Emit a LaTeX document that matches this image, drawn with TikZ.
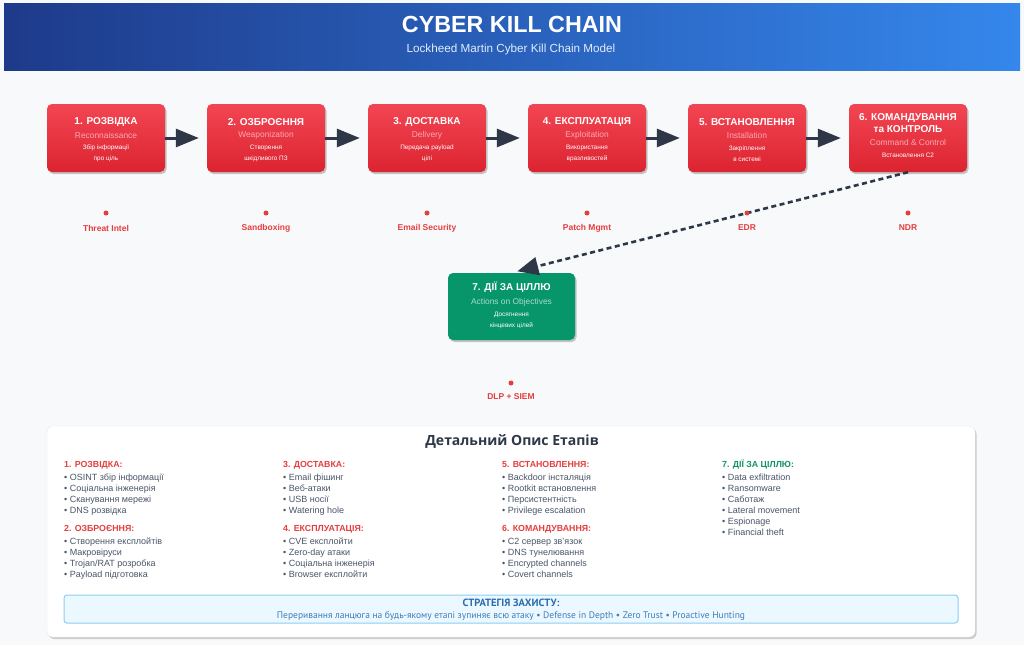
\documentclass[tikz,border=0pt]{standalone}
\usepackage{fontspec}
\setmainfont{Liberation Sans}
\newfontfamily\hum{Open Sans}
\newfontfamily\ptsans{PT Sans}
\usetikzlibrary{shadows,arrows.meta,calc}
\definecolor{bgc}{HTML}{F7F9FB}
\definecolor{hdl}{HTML}{1E3A8A}
\definecolor{hdr}{HTML}{3587EC}
\definecolor{redt}{HTML}{F24553}
\definecolor{redb}{HTML}{DC2430}
\definecolor{pinkt}{HTML}{FAA9B1}
\definecolor{grn}{HTML}{07956A}
\definecolor{grnt}{HTML}{A6DEC6}
\definecolor{dark}{HTML}{2D3748}
\definecolor{redl}{HTML}{E53E3E}
\definecolor{grayt}{HTML}{4A5568}
\definecolor{grnl}{HTML}{109466}
\definecolor{sfill}{HTML}{EBF8FF}
\definecolor{sdraw}{HTML}{8DCDF2}
\definecolor{sblue}{HTML}{2B6CB0}
\tikzset{
  stagebox/.style={rounded corners=5pt, top color=redt, bottom color=redb, draw=none,
    minimum width=118pt, minimum height=68pt, inner sep=0pt,
    drop shadow={shadow xshift=1.5pt, shadow yshift=-2pt, opacity=.22, fill=black}},
  greenbox/.style={rounded corners=5pt, fill=grn, draw=none,
    minimum width=127pt, minimum height=67pt, inner sep=0pt,
    drop shadow={shadow xshift=1.5pt, shadow yshift=-2pt, opacity=.22, fill=black}},
  sttitle/.style={text=white, font=\fontsize{10}{12}\selectfont\bfseries, inner sep=0pt, align=center},
  steng/.style={text=pinkt, font=\fontsize{8.4}{10}\selectfont, inner sep=0pt},
  stdesc/.style={text=white, font=\fontsize{6.4}{11}\selectfont, inner sep=0pt, align=center},
  chainarrow/.style={draw=dark, line width=3pt, -{Triangle[length=23pt,width=18pt]}, shorten >=8pt},
  dasharrow/.style={draw=dark, line width=2.6pt, dash pattern=on 5pt off 3.5pt, -{Triangle[length=21pt,width=18pt]}, shorten >=6pt},
  dot/.style={circle, fill=redl, minimum size=5pt, inner sep=0pt},
  deflabel/.style={text=redl, font=\fontsize{8.5}{10}\selectfont\bfseries, inner sep=0pt},
  colhead/.style={font=\fontsize{8.8}{10}\selectfont\bfseries, inner sep=0pt, anchor=base west},
  item/.style={text=grayt, font=\fontsize{9}{10}\selectfont, inner sep=0pt, anchor=base west},
}
\newcommand\mkstage[5]{%
  \node[stagebox] (#1) at (#2,138) {};
  \node[sttitle] (#1t) at (#2,122) {#3};
  \node[steng] (#1e) at (#2,135) {#4};
  \node[stdesc] (#1d) at (#2,153.5) {#5};
}
\newcommand\mkitems[4]{%
  \foreach \t [count=\i] in {#4} {
    \node[item] (#1\i) at (#2,{#3+(\i-1)*10.9}) {• \t};
  }
}
\begin{document}
\begin{tikzpicture}[x=1pt,y=-1pt]
\useasboundingbox (0,0) rectangle (1024,645);
\fill[bgc] (0,0) rectangle (1024,645);
% header
\shade[left color=hdl, right color=hdr] (4,3) rectangle (1020,70);
\node[text=white, font=\fontsize{23.3}{25}\selectfont\bfseries, inner sep=0pt] (title) at (512,24) {CYBER KILL CHAIN};
\node[text=white!85!hdr, font=\fontsize{11.7}{13}\selectfont, inner sep=0pt] (subtitle) at (511,49) {Lockheed Martin Cyber Kill Chain Model};
% stages
\mkstage{s1}{106}{1. РОЗВІДКА}{Reconnaissance}{Збір інформації\\про ціль}
\mkstage{s2}{266}{2. ОЗБРОЄННЯ}{Weaponization}{Створення\\шкідливого ПЗ}
\mkstage{s3}{427}{3. ДОСТАВКА}{Delivery}{Передача payload\\цілі}
\mkstage{s4}{587}{4. ЕКСПЛУАТАЦІЯ}{Exploitation}{Використання\\вразливостей}
\mkstage{s5}{747}{5. ВСТАНОВЛЕННЯ}{Installation}{Закріплення\\в системі}
\node[stagebox] (s6) at (908,138) {};
\node[sttitle] (s6t) at (908,123) {6. КОМАНДУВАННЯ\\та КОНТРОЛЬ};
\node[steng] (s6e) at (908,142) {Command \& Control};
\node[stdesc] (s6d) at (908,155) {Встановлення C2};
% chain arrows
\draw[chainarrow] (s1.east) -- (s2.west);
\draw[chainarrow] (s2.east) -- (s3.west);
\draw[chainarrow] (s3.east) -- (s4.west);
\draw[chainarrow] (s4.east) -- (s5.west);
\draw[chainarrow] (s5.east) -- (s6.west);
% stage 7
\node[greenbox] (s7) at (511.5,306.5) {};
\node[sttitle] (s7t) at (511.5,287) {7. ДІЇ ЗА ЦІЛЛЮ};
\node[steng, text=grnt] (s7e) at (511.5,302) {Actions on Objectives};
\node[stdesc] (s7d) at (511.5,320.5) {Досягнення\\кінцевих цілей};
\draw[dasharrow] (s6.south) -- (s7.north);
% defenses
\foreach \n/\x/\l in {1/106/Threat Intel,2/266/Sandboxing,3/427/Email Security,4/587/Patch Mgmt,5/747/EDR,6/908/NDR} {
  \node[dot] (d\n) at (\x,213) {};
  \node[deflabel] (l\n) at (\x,228) {\l};
}
\node[dot] (d7) at (511,383) {};
\node[deflabel] (l7) at (511,397) {DLP + SIEM};
% details panel
\node[rounded corners=6pt, fill=white, draw=black!8, minimum width=928pt, minimum height=211pt, inner sep=0pt,
  drop shadow={shadow xshift=1.5pt, shadow yshift=-2pt, opacity=.18, fill=black}] (panel) at (511,531.5) {};
\node[text=dark, font=\hum\fontsize{14}{16}\selectfont\bfseries, inner sep=0pt] (ptitle) at (512,441) {Детальний Опис Етапів};
\node[colhead, text=redl] (h1) at (64,467.2) {1. РОЗВІДКА:};
\mkitems{a}{64}{480.8}{OSINT збір інформації,Соціальна інженерія,Сканування мережі,DNS розвідка}
\node[colhead, text=redl] (h2) at (64,531.2) {2. ОЗБРОЄННЯ:};
\mkitems{b}{64}{544.3}{Створення експлойтів,Макровіруси,Trojan/RAT розробка,Payload підготовка}
\node[colhead, text=redl] (h3) at (283,467.2) {3. ДОСТАВКА:};
\mkitems{c}{283}{480.8}{Email фішинг,Веб-атаки,USB носії,Watering hole}
\node[colhead, text=redl] (h4) at (283,531.2) {4. ЕКСПЛУАТАЦІЯ:};
\mkitems{e}{283}{544.3}{CVE експлойти,Zero-day атаки,Соціальна інженерія,Browser експлойти}
\node[colhead, text=redl] (h5) at (502,467.2) {5. ВСТАНОВЛЕННЯ:};
\mkitems{f}{502}{480.8}{Backdoor інсталяція,Rootkit встановлення,Персистентність,Privilege escalation}
\node[colhead, text=redl] (h6) at (502,531.2) {6. КОМАНДУВАННЯ:};
\mkitems{g}{502}{544.3}{C2 сервер зв’язок,DNS тунелювання,Encrypted channels,Covert channels}
\node[colhead, text=grnl] (h7) at (722,467.2) {7. ДІЇ ЗА ЦІЛЛЮ:};
\mkitems{k}{722}{480.8}{Data exfiltration,Ransomware,Саботаж,Lateral movement,Espionage,Financial theft}
% strategy
\node[rounded corners=3pt, fill=sfill, draw=sdraw, line width=1pt, minimum width=894pt, minimum height=28pt, inner sep=0pt] (strat) at (511,609) {};
\node[text=sblue, font=\ptsans\fontsize{10.5}{12}\selectfont\bfseries, inner sep=0pt] (stt) at (511,603) {СТРАТЕГІЯ ЗАХИСТУ:};
\node[text=sblue!90!white, font=\ptsans\fontsize{9.5}{11}\selectfont, inner sep=0pt] (std) at (511,616.5) {Переривання ланцюга на будь-якому етапі зупиняє всю атаку • Defense in Depth • Zero Trust • Proactive Hunting};
\end{tikzpicture}
\end{document}
